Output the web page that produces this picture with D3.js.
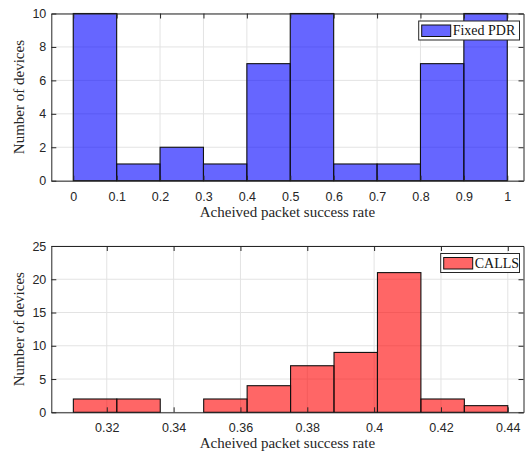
<!DOCTYPE html>
<html>
<head>
<meta charset="utf-8">
<script src="https://cdn.jsdelivr.net/npm/d3@7/dist/d3.min.js"></script>
<style>
  html, body { margin: 0; padding: 0; background: #fff; }
  svg { display: block; }
</style>
</head>
<body>
<svg id="chart" width="529" height="451"></svg>
<script>
// ---- data ----
const topBinEdges = [0, 0.1, 0.2, 0.3, 0.4, 0.5, 0.6, 0.7, 0.8, 0.9, 1.0];
const topCounts = [10, 1, 2, 1, 7, 10, 1, 1, 7, 10];
const topXTicks = [0, 0.1, 0.2, 0.3, 0.4, 0.5, 0.6, 0.7, 0.8, 0.9, 1];
const topYTicks = [0, 2, 4, 6, 8, 10];
const topLegend = "Fixed PDR";

const bottomBinEdges = [0.31, 0.323, 0.336, 0.349, 0.362, 0.375, 0.388, 0.401, 0.414, 0.427, 0.44];
const bottomCounts = [2, 2, 0, 2, 4, 7, 9, 21, 2, 1];
const bottomXTicks = [0.32, 0.34, 0.36, 0.38, 0.40, 0.42, 0.44];
const bottomYTicks = [0, 5, 10, 15, 20, 25];
const bottomLegend = "CALLS";

const xLabel = "Acheived packet success rate";
const yLabel = "Number of devices";

// ---- drawing ----
const svg = d3.select("#chart");
const axisColor = "#262626";
const gridColor = "#e3e3e3";
const tickFont = "'Liberation Sans', Arial, sans-serif";
const serifFont = "'Liberation Serif', 'Times New Roman', serif";

function drawPanel(cfg) {
  const left = 51.3, right = 523.5;
  const x = d3.scaleLinear().domain(cfg.xDomain).range([left, right]);
  const y = d3.scaleLinear().domain(cfg.yDomain).range([cfg.bottom, cfg.top]);
  const g = svg.append("g");

  // grid
  g.append("g").selectAll("line.gx").data(cfg.xTicks).join("line")
    .attr("x1", d => x(d)).attr("x2", d => x(d))
    .attr("y1", cfg.top).attr("y2", cfg.bottom)
    .attr("stroke", gridColor).attr("stroke-width", 1);
  g.append("g").selectAll("line.gy").data(cfg.yTicks).join("line")
    .attr("y1", d => y(d)).attr("y2", d => y(d))
    .attr("x1", left).attr("x2", right)
    .attr("stroke", gridColor).attr("stroke-width", 1);

  // bars
  const bins = cfg.counts.map((c, i) => ({ x0: cfg.edges[i], x1: cfg.edges[i + 1], c }));
  g.append("g").selectAll("rect").data(bins).join("rect")
    .attr("x", d => x(d.x0))
    .attr("width", d => x(d.x1) - x(d.x0))
    .attr("y", d => y(d.c))
    .attr("height", d => y(0) - y(d.c))
    .attr("fill", cfg.color).attr("fill-opacity", 0.6)
    .attr("stroke", "#111").attr("stroke-width", 1.1);

  // axes (MATLAB-like: ticks inward, box on)
  const fmt = cfg.fmt;
  const tl = 5;
  const ax = g.append("g");
  const xb = ax.append("g").attr("transform", `translate(0,${cfg.bottom})`)
    .call(d3.axisBottom(x).tickValues(cfg.xTicks).tickSize(-tl).tickSizeOuter(0).tickPadding(11).tickFormat(fmt));
  const xt = ax.append("g").attr("transform", `translate(0,${cfg.top})`)
    .call(d3.axisTop(x).tickValues(cfg.xTicks).tickSize(-tl).tickSizeOuter(0).tickFormat(""));
  const yl = ax.append("g").attr("transform", `translate(${left},0)`)
    .call(d3.axisLeft(y).tickValues(cfg.yTicks).tickSize(-tl).tickSizeOuter(0).tickPadding(5).tickFormat(d3.format("d")));
  const yr = ax.append("g").attr("transform", `translate(${right},0)`)
    .call(d3.axisRight(y).tickValues(cfg.yTicks).tickSize(-tl).tickSizeOuter(0).tickFormat(""));
  [xb, xt, yl, yr].forEach(a => {
    a.select(".domain").attr("stroke", axisColor).attr("stroke-width", 1);
    a.selectAll(".tick line").attr("stroke", axisColor);
    a.selectAll(".tick text").attr("fill", axisColor)
      .style("font-family", tickFont).style("font-size", "12.5px");
  });
  xb.selectAll(".tick text").attr("dy", "0.71em");

  // axis labels
  g.append("text")
    .attr("x", (left + right) / 2).attr("y", cfg.bottom + 36)
    .attr("text-anchor", "middle")
    .style("font-family", serifFont).style("font-size", "15px").attr("fill", axisColor)
    .text(xLabel);
  g.append("text")
    .attr("transform", `translate(24,${(cfg.top + cfg.bottom) / 2}) rotate(-90)`)
    .attr("text-anchor", "middle")
    .style("font-family", serifFont).style("font-size", "15px").attr("fill", axisColor)
    .text(yLabel);

  // legend
  const lg = g.append("g");
  lg.append("rect")
    .attr("x", cfg.legend.x0).attr("y", cfg.top + 7.5)
    .attr("width", right - 4 - cfg.legend.x0).attr("height", 19)
    .attr("fill", "#fff").attr("stroke", axisColor).attr("stroke-width", 1);
  lg.append("rect")
    .attr("x", cfg.legend.x0 + 3).attr("y", cfg.top + 11.5)
    .attr("width", 29).attr("height", 11.5)
    .attr("fill", cfg.color).attr("fill-opacity", 0.6)
    .attr("stroke", "#111").attr("stroke-width", 1);
  lg.append("text")
    .attr("x", cfg.legend.x0 + 34).attr("y", cfg.top + 21.5)
    .style("font-family", serifFont).style("font-size", "14px").attr("fill", "#111")
    .text(cfg.legendText);
}

drawPanel({
  edges: topBinEdges, counts: topCounts,
  xTicks: topXTicks, yTicks: topYTicks,
  xDomain: [-0.0506, 1.0374], yDomain: [0, 10],
  top: 13.5, bottom: 180.7,
  color: "#0000ff",
  fmt: d => d3.format("~g")(d),
  legend: { x0: 418.7 }, legendText: topLegend
});

drawPanel({
  edges: bottomBinEdges, counts: bottomCounts,
  xTicks: bottomXTicks, yTicks: bottomYTicks,
  xDomain: [0.3034, 0.4447], yDomain: [0, 25],
  top: 246, bottom: 412.3,
  color: "#ff0000",
  fmt: d => d3.format("~g")(+d.toFixed(2)),
  legend: { x0: 440.7 }, legendText: bottomLegend
});
</script>
</body>
</html>
